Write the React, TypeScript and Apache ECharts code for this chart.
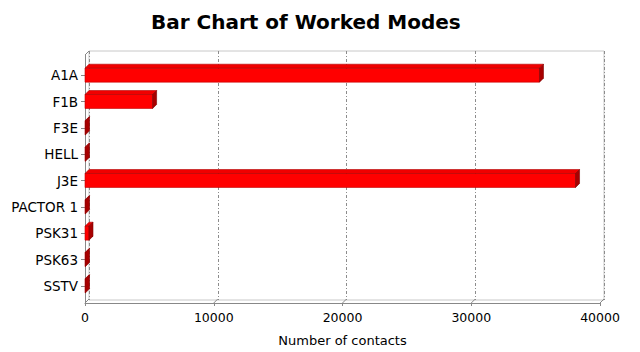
import { useEffect, useRef } from "react";
import * as echarts from "echarts";

const categories = ["A1A", "F1B", "F3E", "HELL", "J3E", "PACTOR 1", "PSK31", "PSK63", "SSTV"];
const contacts = [35300, 5250, 40, 40, 38100, 40, 310, 40, 40];
const xTicks = [0, 10000, 20000, 30000, 40000];
const titleText = "Bar Chart of Worked Modes";
const xAxisName = "Number of contacts";

const DEPTH = 4;
const FONT = "DejaVu Sans";

export default function App() {
  const ref = useRef<HTMLDivElement>(null);
  useEffect(() => {
    document.body.style.margin = "0";
    const chart = echarts.init(ref.current!, null, { renderer: "svg" });
    const axisGray = "#888888";
    chart.setOption({
      animation: false,
      backgroundColor: "#ffffff",
      title: {
        text: titleText,
        left: 146,
        top: 7,
        textStyle: { fontFamily: FONT, fontWeight: "bold", fontSize: 20, color: "#000" },
      },
      grid: [
        { left: 85, top: 62, width: 515, height: 237 },
        { left: 85, top: 55, width: 515, height: 249 },
        {
          left: 85 + DEPTH,
          top: 55 - DEPTH,
          width: 515,
          height: 249,
          show: true,
          borderColor: "#c8c8c8",
          borderWidth: 1,
          backgroundColor: "#ffffff",
        },
      ],
      xAxis: [
        { gridIndex: 0, type: "value", min: 0, max: 40000, interval: 10000, show: false },
        {
          gridIndex: 1,
          type: "value",
          min: 0,
          max: 40000,
          interval: 10000,
          axisLine: { show: true, lineStyle: { color: axisGray } },
          axisTick: { show: true, length: 3, lineStyle: { color: axisGray } },
          axisLabel: {
            fontFamily: FONT,
            fontSize: 12.5,
            color: "#000",
            margin: 8,
            formatter: (v: number) => String(v),
          },
          splitLine: { show: false },
          name: xAxisName,
          nameLocation: "middle",
          nameGap: 31,
          nameTextStyle: { fontFamily: FONT, fontSize: 13, color: "#000" },
        },
        {
          gridIndex: 2,
          type: "value",
          min: 0,
          max: 40000,
          interval: 10000,
          axisLine: { show: false },
          axisTick: { show: false },
          axisLabel: { show: false },
          splitLine: { show: true, lineStyle: { color: "#8c8c8c", type: [3, 2, 1, 2], width: 1 } },
        },
      ],
      yAxis: [
        {
          gridIndex: 0,
          type: "category",
          data: categories,
          inverse: true,
          axisLine: { show: false },
          axisTick: { show: true, alignWithLabel: true, length: 4, lineStyle: { color: axisGray } },
          axisLabel: { fontFamily: FONT, fontSize: 13.5, color: "#000", margin: 7 },
        },
        {
          gridIndex: 1,
          type: "value",
          min: 0,
          max: 1,
          axisLine: { show: true, lineStyle: { color: axisGray } },
          axisTick: { show: false },
          axisLabel: { show: false },
          splitLine: { show: false },
        },
        { gridIndex: 2, type: "value", min: 0, max: 1, show: false, splitLine: { show: false } },
      ],
      series: [
        {
          type: "custom",
          xAxisIndex: 1,
          yAxisIndex: 1,
          data: xTicks.map((t) => [t, 0]),
          silent: true,
          z: 1,
          renderItem: (params: any, api: any) => {
            const p = api.coord([api.value(0), 0]);
            const children: any[] = [
              {
                type: "line",
                shape: { x1: p[0], y1: p[1], x2: p[0] + DEPTH, y2: p[1] - DEPTH },
                style: { stroke: axisGray, lineWidth: 1 },
              },
            ];
            if (params.dataIndex === 0) {
              const q = api.coord([0, 1]);
              children.push({
                type: "line",
                shape: { x1: q[0], y1: q[1], x2: q[0] + DEPTH, y2: q[1] - DEPTH },
                style: { stroke: axisGray, lineWidth: 1 },
              });
            }
            return { type: "group", children };
          },
        },
        {
          type: "custom",
          xAxisIndex: 0,
          yAxisIndex: 0,
          data: contacts.map((v, i) => [v, i]),
          encode: { x: 0, y: 1 },
          z: 3,
          renderItem: (params: any, api: any) => {
            const v = api.value(0);
            const i = api.value(1);
            const s = api.coord([0, i]);
            const e = api.coord([v, i]);
            const band = api.size([0, 1])[1];
            const h = band * 0.53;
            const top = s[1] - h / 2;
            const bot = s[1] + h / 2;
            const x0 = s[0];
            const x1 = e[0];
            return {
              type: "group",
              children: [
                {
                  type: "rect",
                  shape: { x: x0, y: top, width: x1 - x0, height: h },
                  style: { fill: "#ff0000", stroke: "#c00000", lineWidth: 0.6 },
                },
                {
                  type: "polygon",
                  shape: {
                    points: [
                      [x0, top],
                      [x0 + DEPTH, top - DEPTH],
                      [x1 + DEPTH, top - DEPTH],
                      [x1, top],
                    ],
                  },
                  style: { fill: "#f00000", stroke: "#b00000", lineWidth: 0.6 },
                },
                {
                  type: "polygon",
                  shape: {
                    points: [
                      [x1, top],
                      [x1 + DEPTH, top - DEPTH],
                      [x1 + DEPTH, bot - DEPTH],
                      [x1, bot],
                    ],
                  },
                  style: { fill: "#a80000", stroke: "#800000", lineWidth: 0.6 },
                },
              ],
            };
          },
        },
      ],
    });
    return () => chart.dispose();
  }, []);
  return <div ref={ref} style={{ width: 640, height: 352 }} />;
}
